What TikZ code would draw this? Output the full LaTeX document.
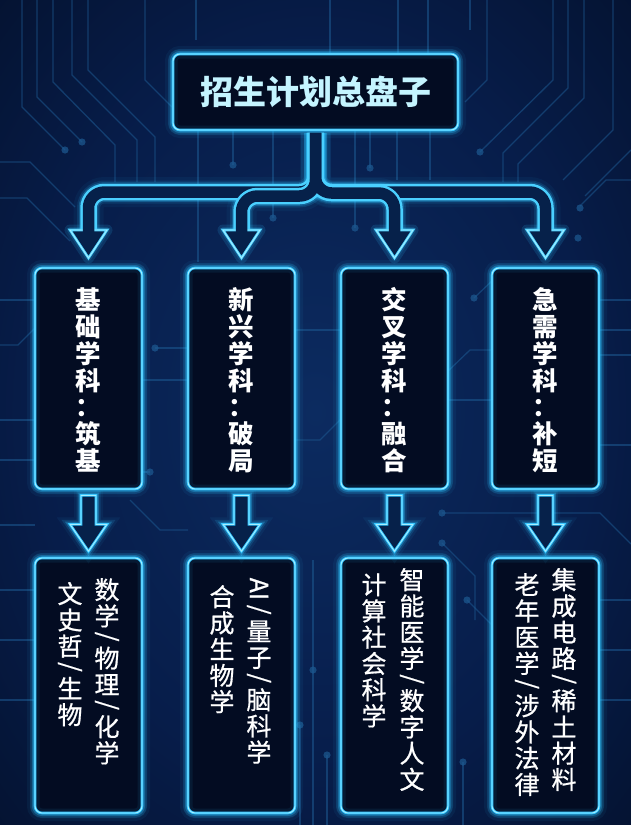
\documentclass[tikz,border=0pt]{standalone}
\usepackage{fontspec}
\setmainfont{Noto Sans CJK SC}
\newfontfamily\botcjk{Noto Sans CJK SC}[FakeBold=0.7]
\usepackage{graphicx}
\definecolor{bgin}{HTML}{0C2B60}
\definecolor{bgmid}{HTML}{071D4A}
\definecolor{bgout}{HTML}{020A1C}
\definecolor{neon}{HTML}{2EC4FF}
\definecolor{pipewall}{HTML}{4AD0FF}
\definecolor{neonhi}{HTML}{A6EEFF}
\definecolor{boxfill}{HTML}{030C22}
\definecolor{pipefill}{HTML}{06214A}
\definecolor{tracecol}{HTML}{1D5A92}
\definecolor{titletext}{HTML}{C4F4FF}
\pgfdeclareradialshading{bgshade}{\pgfpoint{0bp}{0bp}}{color(0bp)=(bgin); color(22bp)=(bgmid); color(48bp)=(bgout); color(60bp)=(bgout)}
\makeatletter
\newcommand\vs{/}
\newcommand\vai{AI}
\def\vt@vs{\vs}
\def\vt@vai{\vai}
\newcommand\vtext[1]{\vbox{\offinterlineskip\@tfor\vt@c:=#1\do{\vt@row}}}
\def\vt@row{\ifx\vt@c\vt@vs\vt@slash\else\ifx\vt@c\vt@vai\vt@ai\else\vt@char\fi\fi}
\def\vt@char{\hbox to 1em{\hss\vrule height .92em depth .13em width 0pt\relax\vt@c\hss}}
\def\vt@slash{\hbox to 1em{\hss\vbox to .64em{\vss\hbox{\rotatebox{-90}{/}}\vss}\hss}}
\def\vt@ai{\hbox to 1em{\hss\vbox to 1.02em{\vss\hbox{\rotatebox{-90}{AI}}\vss}\hss}}
\makeatother
\begin{document}
\begin{tikzpicture}[x=1pt,y=-1pt,
  ctrace/.style={draw=tracecol, line width=1.3, opacity=.55},
  cdot/.style={fill=tracecol, opacity=.7},
  neonbox/.style={draw=neon, line width=2.6, rounded corners=7, fill=boxfill, inner sep=0,
    preaction={draw=neon, line width=16, opacity=.06},
    preaction={draw=neon, line width=10, opacity=.14},
    preaction={draw=neon, line width=6, opacity=.3},
    postaction={draw=neon, line width=9, opacity=.08},
    postaction={draw=neonhi, line width=.9}},
  neonshape/.style={draw=neon, line width=2.6, fill=pipefill, line join=miter,
    preaction={draw=neon, line width=14, opacity=.06},
    preaction={draw=neon, line width=9, opacity=.14},
    preaction={draw=neon, line width=5.5, opacity=.3},
    postaction={draw=neonhi, line width=.9}},
  pglowa/.style={draw=neon, line width=30, opacity=.05, rounded corners=16},
  pglowb/.style={draw=neon, line width=23, opacity=.12, rounded corners=16},
  pglowc/.style={draw=neon, line width=19.5, opacity=.25, rounded corners=16},
  pedge/.style={draw=pipewall, line width=16.5, rounded corners=16},
  pcore/.style={draw=pipefill, line width=11.5, rounded corners=16},
  hglow/.style={draw=neon, line width=#1, opacity=.14, line join=round},
  headstyle/.style={draw=pipewall, line width=2.6, fill=pipefill, line join=miter,
    postaction={draw=neonhi, line width=.9}},
  titletxt/.style={font=\bfseries\fontsize{33}{40}\selectfont, text=titletext, inner sep=0},
  midtxt/.style={font=\bfseries\fontsize{25.5}{30}\selectfont, text=white, inner sep=0},
  bottxt/.style={font=\botcjk\fontsize{25}{30}\selectfont, text=white, inner sep=0, anchor=north}]
\useasboundingbox (0,0) rectangle (631,825);
\shade[shading=bgshade] (0,0) rectangle (631,825);
% ---------- background circuit traces ----------
\draw[ctrace] (22,0) -- (22,107) -- (65,150);
\draw[ctrace] (37,0) -- (37,97) -- (82,142);
\draw[ctrace] (53,0) -- (53,82) -- (115,145) -- (115,182);
\draw[ctrace] (72,0) -- (72,75) -- (137,140) -- (137,182);
\draw[ctrace] (88,0) -- (88,70) -- (155,137) -- (155,182);
\draw[ctrace] (145,0) -- (145,80) -- (172,107);
\draw[ctrace] (0,162) -- (30,162) -- (75,207);
\draw[ctrace] (0,198) -- (27,198) -- (70,241);
\draw[ctrace] (196,0) -- (196,40);
\draw[ctrace] (330,0) -- (330,54);
\draw[ctrace] (398,0) -- (398,54);
\draw[ctrace] (428,0) -- (428,54);
\draw[ctrace] (470,0) -- (470,30);
\draw[ctrace] (487,0) -- (487,80) -- (465,102);
\draw[ctrace] (553,0) -- (553,80) -- (480,152);
\draw[ctrace] (568,0) -- (568,88) -- (503,153) -- (503,182);
\draw[ctrace] (584,0) -- (584,98) -- (518,164) -- (518,182);
\draw[ctrace] (613,0) -- (613,130) -- (563,180);
\draw[ctrace] (631,150) -- (585,196);
\draw[ctrace] (631,180) -- (606,180) -- (580,206);
\draw[ctrace] (198,131) -- (198,262);
\draw[ctrace] (233,131) -- (233,165);
\draw[ctrace] (273,131) -- (273,218);
\draw[ctrace] (355,131) -- (355,228);
\draw[ctrace] (370,131) -- (370,168);
\draw[ctrace] (397,131) -- (397,180);
\draw[ctrace] (430,131) -- (430,180);
\draw[ctrace] (142,380) -- (188,380);
\draw[ctrace] (155,348) -- (188,348);
\draw[ctrace] (142,472) -- (150,472);
\draw[ctrace] (474,298) -- (493,280);
\draw[ctrace] (447,372) -- (470,350) -- (493,350);
\draw[ctrace] (447,400) -- (493,400);
\draw[ctrace] (295,330) -- (342,330);
\draw[ctrace] (295,440) -- (320,440) -- (342,418);
\draw[ctrace] (598,300) -- (631,300);
\draw[ctrace] (598,330) -- (631,330);
\draw[ctrace] (598,355) -- (631,355);
\draw[ctrace] (598,445) -- (631,445);
\draw[ctrace] (0,300) -- (35,300);
\draw[ctrace] (0,345) -- (18,345) -- (35,328);
\draw[ctrace] (0,420) -- (35,420);
\draw[ctrace] (0,460) -- (35,460);
\draw[ctrace] (442,513) -- (600,513) -- (631,544);
\draw[ctrace] (442,543) -- (475,576) -- (475,620);
\draw[ctrace] (130,500) -- (160,530) -- (188,530);
\draw[ctrace] (0,525) -- (35,525);
\draw[ctrace] (313,560) -- (313,825);
\draw[ctrace] (300,725) -- (300,825);
\draw[ctrace] (327,755) -- (327,825);
\draw[ctrace] (467,600) -- (493,626);
\draw[ctrace] (463,762) -- (463,825);
\draw[ctrace] (598,600) -- (631,600);
\draw[ctrace] (598,650) -- (631,650);
\draw[ctrace] (598,700) -- (631,700);
\draw[ctrace] (0,590) -- (35,590);
\draw[ctrace] (0,640) -- (35,640);
\draw[ctrace] (0,700) -- (35,700);
\foreach \p [count=\k] in {(65,150),(82,142),(233,165),(273,218),(355,228),(370,168),(480,152),(580,208),(578,238),
  (155,348),(150,472),(474,298),(442,513),(442,543),(313,670),(300,725),(327,755),(467,600),(463,762)}
  \fill[cdot] \p circle (3.6);
% ---------- boxes ----------
\node[neonbox, minimum width=285, minimum height=76] (t) at (315.5,92) {};
\node[neonbox, minimum width=107, minimum height=221] (m1) at (88.5,378.5) {};
\node[neonbox, minimum width=107, minimum height=221] (m2) at (241.5,378.5) {};
\node[neonbox, minimum width=107, minimum height=221] (m3) at (394.5,378.5) {};
\node[neonbox, minimum width=107, minimum height=221] (m4) at (545.5,378.5) {};
\node[neonbox, minimum width=107, minimum height=255] (b1) at (88.5,685.5) {};
\node[neonbox, minimum width=107, minimum height=255] (b2) at (241.5,685.5) {};
\node[neonbox, minimum width=107, minimum height=255] (b3) at (394.5,685.5) {};
\node[neonbox, minimum width=107, minimum height=255] (b4) at (545.5,685.5) {};
% ---------- branching pipe arrows ----------
\coordinate (s0) at ([yshift=-1.5pt]t.south);
\coordinate (a1) at (88.5,192);  \coordinate (h1) at (88.5,232);
\coordinate (a2) at (241.5,196); \coordinate (h2) at (241.5,232);
\coordinate (a3) at (394.5,193); \coordinate (h3) at (394.5,232);
\coordinate (a4) at (545.5,192); \coordinate (h4) at (545.5,232);
\foreach \i in {1,...,4}{
  \coordinate (hl\i) at ([shift={(-18.5,-2)}]h\i);
  \coordinate (hr\i) at ([shift={(18.5,-2)}]h\i);
  \coordinate (ht\i) at ([shift={(0,26)}]h\i);
}
\foreach \i in {1,...,4}{
  \draw[pglowa] (s0) |- (a\i) -- (h\i);
  \draw[pglowb] (s0) |- (a\i) -- (h\i);
  \draw[pglowc] (s0) |- (a\i) -- (h\i);
  \draw[hglow=11] (hl\i) -- (hr\i) -- (ht\i) -- cycle;
  \draw[hglow=6] (hl\i) -- (hr\i) -- (ht\i) -- cycle;
}
\foreach \i in {1,4} \draw[pedge] (s0) |- (a\i) -- (h\i);
\foreach \i in {1,4} \draw[headstyle] (hl\i) -- (hr\i) -- (ht\i) -- cycle;
\foreach \i in {1,4} \draw[pcore] (s0) |- (a\i) -- (h\i);
\foreach \i in {2,3} \draw[pedge] (s0) |- (a\i) -- (h\i);
\foreach \i in {2,3} \draw[headstyle] (hl\i) -- (hr\i) -- (ht\i) -- cycle;
\foreach \i in {2,3} \draw[pcore] (s0) |- (a\i) -- (h\i);
% ---------- arrows between rows ----------
\foreach \i in {1,...,4}
  \draw[neonshape] ([shift={(-7.5,5)}]m\i.south) -- ([shift={(7.5,5)}]m\i.south)
    -- ([shift={(7.5,34)}]m\i.south) -- ([shift={(18.5,34)}]m\i.south)
    -- ([shift={(0,61)}]m\i.south) -- ([shift={(-18.5,34)}]m\i.south)
    -- ([shift={(-7.5,34)}]m\i.south) -- cycle;
% ---------- texts ----------
\node[titletxt] (tt) at (t.center) {招生计划总盘子};
\node[midtxt] (mt1) at ([yshift=-1.5pt]m1.center) {\vtext{基础学科：筑基}};
\node[midtxt] (mt2) at ([yshift=-1.5pt]m2.center) {\vtext{新兴学科：破局}};
\node[midtxt] (mt3) at ([yshift=-1.5pt]m3.center) {\vtext{交叉学科：融合}};
\node[midtxt] (mt4) at ([yshift=-1.5pt]m4.center) {\vtext{急需学科：补短}};
\node[bottxt] (bt1r) at (107,576) {\vtext{数学\vs 物理\vs 化学}};
\node[bottxt] (bt1l) at (70,580) {\vtext{文史哲\vs 生物}};
\node[bottxt] (bt2r) at (259,576) {\vtext{\vai\vs 量子\vs 脑科学}};
\node[bottxt] (bt2l) at (222,583) {\vtext{合成生物学}};
\node[bottxt] (bt3r) at (412,566) {\vtext{智能医学\vs 数字人文}};
\node[bottxt] (bt3l) at (374,571) {\vtext{计算社会科学}};
\node[bottxt] (bt4r) at (564,566) {\vtext{集成电路\vs 稀土材料}};
\node[bottxt] (bt4l) at (527,571) {\vtext{老年医学\vs 涉外法律}};
\end{tikzpicture}
\end{document}
